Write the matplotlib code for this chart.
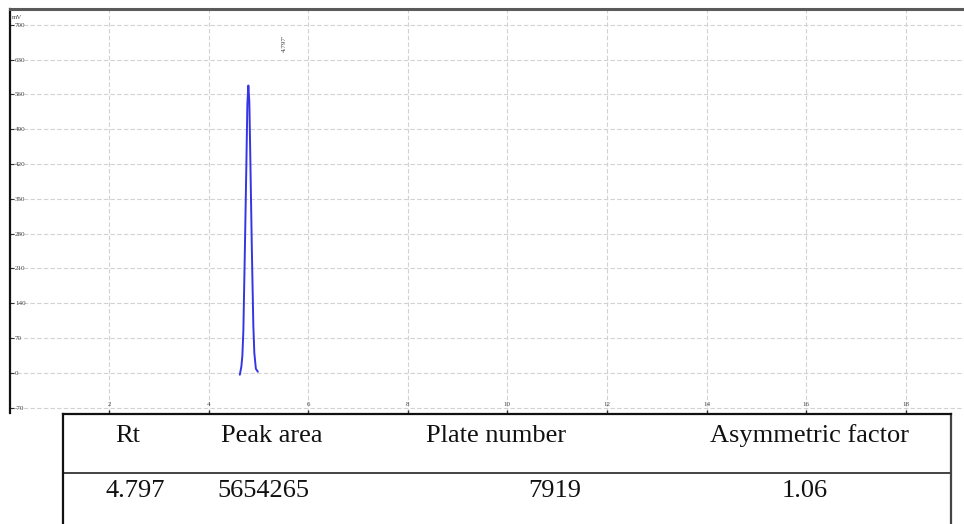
import matplotlib
matplotlib.use("Agg")
import matplotlib.pyplot as plt

# Chromatogram trace (retention time in min, detector signal in mV)
time_min = [4.626, 4.656, 4.677, 4.697, 4.727, 4.757, 4.777, 4.797,
            4.817, 4.837, 4.867, 4.897, 4.917, 4.948, 4.988]
signal_mv = [-4, 12, 34, 85, 246, 418, 540, 578,
             545, 430, 250, 95, 40, 8, 2]

peak_rt = 4.797
peak_label = "4.797'"

x_ticks = [2, 4, 6, 8, 10, 12, 14, 16, 18]
y_ticks = [-70, 0, 70, 140, 210, 280, 350, 420, 490, 560, 630, 700]

# Peak summary table
table_headers = ["Rt", "Peak area", "Plate number", "Asymmetric factor"]
table_values = ["4.797", "5654265", "7919", "1.06"]

W, H = 964, 524
fig = plt.figure(figsize=(W / 100, H / 100), dpi=100)

# ---- chromatogram panel ----
x0, x1 = 9.5, 964.0
y_top, y_bot = 9.0, 413.0
ax = fig.add_axes([x0 / W, (H - y_bot) / H, (x1 - x0) / W, (y_bot - y_top) / H])
ax.set_xlim(0, 19.17)
ax.set_ylim(-81, 732)

ax.plot(time_min, signal_mv, color="#3535e6", lw=1.4, solid_capstyle="round")

ax.set_xticks(x_ticks)
ax.set_xticklabels([str(v) for v in x_ticks])
ax.set_yticks(y_ticks)
ax.set_yticklabels([str(v) for v in y_ticks])

ax.grid(True, color="#d2d2d2", linestyle=(0, (4, 2)), linewidth=0.8)
ax.set_axisbelow(True)

tick_font = dict(family="Liberation Serif")
ax.tick_params(axis="y", direction="in", length=3, width=0.8, pad=-4,
               labelsize=5, labelcolor="#444444", color="#333333")
for lbl in ax.get_yticklabels():
    lbl.set_horizontalalignment("left")
    lbl.set_fontfamily("Liberation Serif")
ax.tick_params(axis="x", direction="in", length=2.5, width=1.0, pad=-4,
               labelsize=5, labelcolor="#444444", color="#333333")
for lbl in ax.get_xticklabels():
    lbl.set_verticalalignment("bottom")
    lbl.set_fontfamily("Liberation Serif")

for side in ("right", "bottom"):
    ax.spines[side].set_visible(False)
ax.spines["left"].set_linewidth(1.6)
ax.spines["left"].set_color("#111111")
ax.spines["top"].set_linewidth(2.2)
ax.spines["top"].set_color("#5a5a5a")

ax.text(0.003, 0.985, "mV", transform=ax.transAxes, fontsize=5,
        color="#444444", ha="left", va="top", **tick_font)
ax.text(peak_rt + 0.715, 663, peak_label, rotation=90, fontsize=5,
        color="#444444", ha="center", va="center", **tick_font)

# ---- summary table ----
tl, tr, tt = 63.0, 951.0, 414.0
tax = fig.add_axes([tl / W, 0, (tr - tl) / W, (H - tt) / H])
tax.set_xlim(tl, tr)
tax.set_ylim(H, tt)
tax.set_xticks([])
tax.set_yticks([])
tax.patch.set_alpha(0)
tax.spines["bottom"].set_visible(False)
for side in ("left", "right", "top"):
    tax.spines[side].set_linewidth(1.6)
    tax.spines[side].set_color("#111111")
tax.spines["right"].set_color("#444444")
tax.axhline(472.5, color="#222222", lw=1.2)

header_x = [128, 272, 496, 810]
value_x = [135, 263, 555, 805]
for hx, txt in zip(header_x, table_headers):
    tax.text(hx, 436, txt, fontsize=19, family="Liberation Serif",
             ha="center", va="center", color="#111111")
for vx, txt in zip(value_x, table_values):
    tax.text(vx, 491, txt, fontsize=19, family="Liberation Serif",
             ha="center", va="center", color="#111111")

fig.savefig("out.png", dpi=100)
